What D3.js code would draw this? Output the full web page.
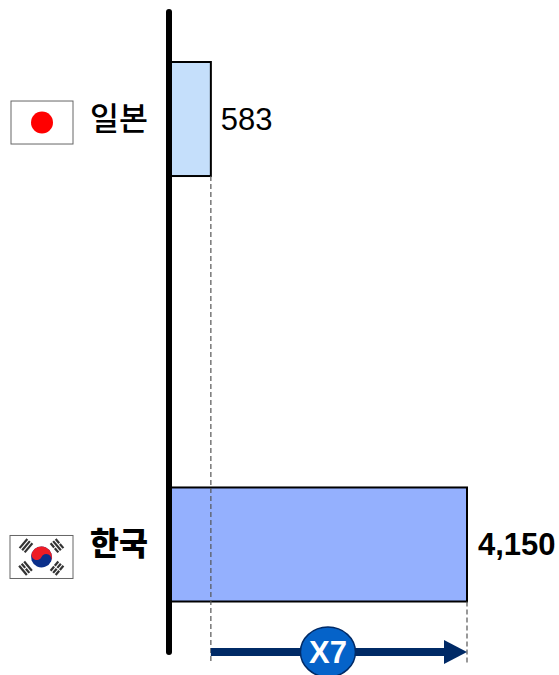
<!DOCTYPE html>
<html>
<head>
<meta charset="utf-8">
<style>
    html, body { margin: 0; padding: 0; background: #fff; }
    svg { display: block; }
</style>
<script src="https://cdn.jsdelivr.net/npm/d3@7"></script>
</head>
<body>
<svg></svg>
<script>
let countries = ['일본', '한국'];
let values = [583, 4150];
let valueLabels = ['583', '4,150'];
let barColors = ['#c5dffb', '#94b0fe'];
let multiple = 'X7';

window.onload = () => {
    let width = 559;
    let height = 675;

    let svg = d3.select('svg')
        .attr('width', width)
        .attr('height', height)
        .attr('viewBox', `0 0 ${width} ${height}`);

    let x = d3.scaleLinear().domain([0, 4150]).range([169, 467]);
    let y = d3.scaleBand().domain(countries).range([62, 601.5]).paddingInner(0.732);
    let mid = name => y(name) + y.bandwidth() / 2;
    let bottom = name => y(name) + y.bandwidth();

    let data = countries.map((name, i) => ({name, value: values[i], label: valueLabels[i], color: barColors[i], i}));

    // dashed guides from the bar ends down past the arrow
    let guides = [[values[0], bottom(countries[0])], [values[1], bottom(countries[1])]];

    // bars
    svg.selectAll('.bar')
        .data(data)
        .enter()
        .append('rect')
        .attr('class', 'bar')
        .attr('x', x(0))
        .attr('y', d => y(d.name))
        .attr('width', d => x(d.value) - x(0))
        .attr('height', y.bandwidth())
        .attr('fill', d => d.color)
        .attr('stroke', '#000')
        .attr('stroke-width', 2);

    svg.selectAll('.guide')
        .data(guides)
        .enter()
        .append('line')
        .attr('class', 'guide')
        .attr('x1', d => x(d[0]))
        .attr('x2', d => x(d[0]))
        .attr('y1', d => d[1])
        .attr('y2', 664)
        .attr('stroke', '#555')
        .attr('stroke-width', 1.2)
        .attr('stroke-dasharray', '5 3');

    // vertical baseline
    svg.append('line')
        .attr('x1', x(0))
        .attr('x2', x(0))
        .attr('y1', 12)
        .attr('y2', 652)
        .attr('stroke', '#000')
        .attr('stroke-width', 6)
        .attr('stroke-linecap', 'round');

    // value labels
    svg.selectAll('.value')
        .data(data)
        .enter()
        .append('text')
        .attr('class', 'value')
        .attr('x', d => x(d.value) + (d.i ? 11 : 10))
        .attr('y', d => mid(d.name) + 11)
        .attr('font-family', '"Liberation Sans", Arial, sans-serif')
        .attr('font-size', 31)
        .attr('font-weight', d => d.i ? 'bold' : 'normal')
        .attr('fill', '#000')
        .text(d => d.label);

    // country labels
    svg.selectAll('.country')
        .data(data)
        .enter()
        .append('text')
        .attr('class', 'country')
        .attr('x', 148)
        .attr('y', d => mid(d.name) + 11)
        .attr('text-anchor', 'end')
        .attr('font-family', '"Noto Sans CJK KR", sans-serif')
        .attr('font-size', 31.5)
        .attr('font-weight', d => d.i ? 900 : 500)
        .attr('fill', '#000')
        .text(d => d.name);

    // flags
    let flagW = [62, 63];
    let flagH = 43;
    let flags = svg.selectAll('.flag')
        .data(data)
        .enter()
        .append('g')
        .attr('class', 'flag')
        .attr('transform', d => `translate(${d.i ? 41.5 : 42}, ${mid(d.name) + (d.i ? 12.5 : 3.5)})`);

    flags.append('rect')
        .attr('x', d => -flagW[d.i] / 2)
        .attr('y', -flagH / 2)
        .attr('width', d => flagW[d.i])
        .attr('height', flagH)
        .attr('fill', '#fff')
        .attr('stroke', '#666')
        .attr('stroke-width', 1);

    flags.filter(d => d.i === 0)
        .append('circle')
        .attr('r', 11)
        .attr('fill', '#ff0000');

    let kr = flags.filter(d => d.i === 1);
    let r = 10.5;
    kr.append('circle').attr('r', r).attr('fill', '#0b2f8a').attr('transform', 'rotate(25)');
    kr.append('path')
        .attr('d', `M${-r},0 A${r},${r} 0 0 1 ${r},0 A${r / 2},${r / 2} 0 0 0 0,0 A${r / 2},${r / 2} 0 0 1 ${-r},0 Z`)
        .attr('fill', '#ee1c25')
        .attr('transform', 'rotate(25)');

    // trigrams: angle of the flag diagonal, broken stripes per position
    let trigrams = [
        {x: -15.5, y: -11.3, a: -50, broken: [0, 0, 0]},
        {x: 15.5, y: -11.3, a: 50, broken: [1, 0, 1]},
        {x: -16, y: 11.3, a: 50, broken: [0, 1, 0]},
        {x: 15.5, y: 11.3, a: -50, broken: [1, 1, 1]}
    ];
    let tri = kr.selectAll('.trigram')
        .data(trigrams)
        .enter()
        .append('g')
        .attr('class', 'trigram')
        .attr('transform', d => `translate(${d.x}, ${d.y}) rotate(${d.a})`);

    tri.each(function (d) {
        let g = d3.select(this);
        d.broken.forEach((b, k) => {
            let sy = -4.4 + k * 3.3;
            if (b) {
                g.append('rect').attr('x', -6).attr('y', sy).attr('width', 5.5).attr('height', 2.2).attr('fill', '#333');
                g.append('rect').attr('x', 0.5).attr('y', sy).attr('width', 5.5).attr('height', 2.2).attr('fill', '#333');
            } else {
                g.append('rect').attr('x', -6).attr('y', sy).attr('width', 12).attr('height', 2.2).attr('fill', '#333');
            }
        });
    });

    // arrow between the two bar ends
    let arrowY = 652;
    svg.append('line')
        .attr('x1', x(values[0]))
        .attr('x2', x(values[1]) - 22)
        .attr('y1', arrowY)
        .attr('y2', arrowY)
        .attr('stroke', '#002a66')
        .attr('stroke-width', 8);

    svg.append('path')
        .attr('d', d3.line()([[x(values[1]) - 23, arrowY - 12], [x(values[1]), arrowY], [x(values[1]) - 23, arrowY + 12]]) + 'Z')
        .attr('fill', '#002a66');

    let cx = (x(values[0]) + x(values[1])) / 2 - 11;
    svg.append('ellipse')
        .attr('cx', cx)
        .attr('cy', arrowY)
        .attr('rx', 27.5)
        .attr('ry', 25)
        .attr('fill', '#0563c9')
        .attr('stroke', '#002a66')
        .attr('stroke-width', 1.5);

    svg.append('text')
        .attr('x', cx)
        .attr('y', arrowY + 11)
        .attr('text-anchor', 'middle')
        .attr('font-family', '"Liberation Sans", Arial, sans-serif')
        .attr('font-size', 31)
        .attr('font-weight', 'bold')
        .attr('fill', '#fff')
        .text(multiple);
}
</script>
</body>
</html>
